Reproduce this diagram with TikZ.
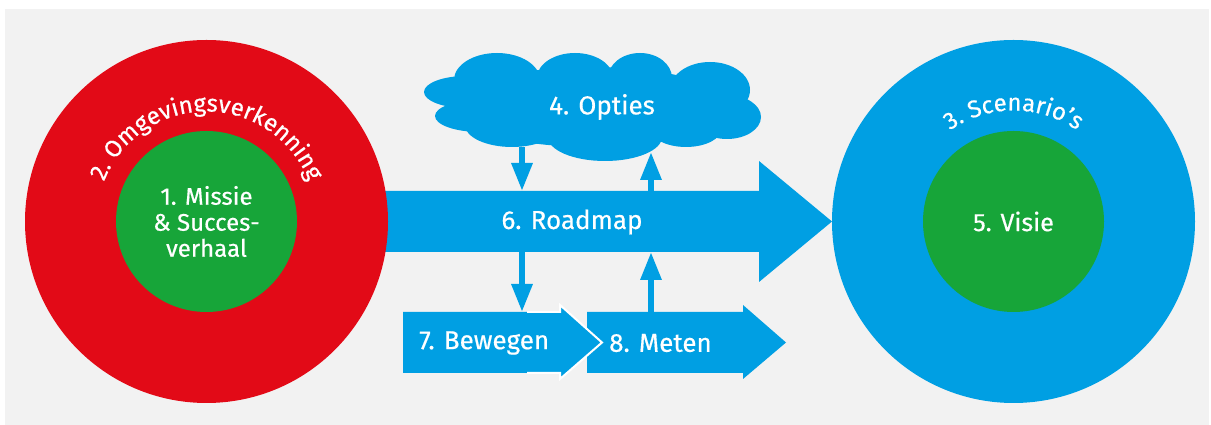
\documentclass[tikz,border=0pt]{standalone}
\usepackage{fontspec}
\setmainfont{Fira Sans}[FakeBold=0.5]
\usepackage{xcolor}
\usepackage{tikz}
\usetikzlibrary{arrows.meta, decorations.text}

\definecolor{rvrood}{HTML}{E20A17}
\definecolor{rvblauw}{HTML}{009FE3}
\definecolor{rvgroen}{HTML}{17A539}
\definecolor{rvgrijs}{HTML}{F2F2F2}

\tikzset{
  ring/.style={circle, inner sep=0pt, minimum size=363pt},
  kern/.style={circle, fill=rvgroen, inner sep=0pt, minimum size=181pt, text=white, align=center, font=\fontsize{25}{26}\selectfont},
  lbl/.style={inner sep=0pt, text=white, font=\fontsize{26}{26}\selectfont},
  pijl/.style={draw=rvblauw, line width=6pt, -{Triangle[length=28pt,width=20pt]}},
  boogtekst/.style={decorate, decoration={text along path, text align=center, text color=white, text={|\fontsize{24}{24}\selectfont|#1}}}
}

\begin{document}
\begin{tikzpicture}[x=1pt,y=1pt]
\useasboundingbox (0,0) rectangle (1211,425);
\fill[rvgrijs] (5,0) rectangle (1209,416);

% roadmap shaft runs in behind the red ring
\fill[rvblauw] (380,173) -- (759,173) -- (759,143) -- (832,203.5) -- (759,264) -- (759,234) -- (380,234) -- cycle;

\node[ring, fill=rvrood] (omgeving) at (206.5,203.5) {};
\node[kern, font=\fontsize{24}{26}\selectfont] (missie) at (omgeving) {1. Missie\\\& Succes-\\verhaal};
\path[boogtekst={2. Omgevingsverkenning}] (omgeving.center) ++(180:110) arc[start angle=180, end angle=0, radius=110];

\node[ring, fill=rvblauw] (scenarios) at (1013.5,203.5) {};
\node[kern] (visie) at (scenarios) {5. Visie};
\path[boogtekst={3. Scenario’s}] (scenarios.center) ++(180:111) arc[start angle=180, end angle=0, radius=111];

% the cloud, built from overlapping puffs
\begin{scope}[rvblauw]
  \fill (592,318) ellipse[x radius=140, y radius=40];
  \fill (497,345) ellipse[x radius=43, y radius=27];
  \fill (575,347) ellipse[x radius=38, y radius=25];
  \fill (640,347) ellipse[x radius=32, y radius=25];
  \fill (710,335) ellipse[x radius=40, y radius=28];
  \fill (727,308) ellipse[x radius=34, y radius=22];
  \fill (466,333) ellipse[x radius=42, y radius=16];
  \fill (480,309) ellipse[x radius=45, y radius=16];
  \fill (512,300) ellipse[x radius=47, y radius=22];
  \fill (605,288) ellipse[x radius=57, y radius=24];
  \fill (686,297) ellipse[x radius=36, y radius=19];
\end{scope}
\node[lbl] (opties) at (602,318) {4. Opties};
\node[lbl] (roadmap) at (572,203) {6. Roadmap};

% end points on the roadmap and the two small arrows below
\coordinate (optiesuit) at (522,278);
\coordinate (optiesin) at (651,273);
\coordinate (rmboven1) at (522,234);
\coordinate (rmboven2) at (651,234);
\coordinate (rmonder1) at (522,173);
\coordinate (rmonder2) at (651,173);
\coordinate (bewegenin) at (522,113);
\coordinate (metenuit) at (651,113);

\draw[pijl] (optiesuit) -- (rmboven1);
\draw[pijl] (rmboven2) -- (optiesin);
\draw[pijl] (rmonder1) -- (bewegenin);
\draw[pijl] (metenuit) -- (rmonder2);

\fill[rvblauw] (587,113) -- (743,113) -- (743,120) -- (786,82.5) -- (743,46) -- (743,52) -- (587,52) -- cycle;
\fill[rvblauw] (403,113) -- (560,113) -- (560,120) -- (602,82.5) -- (560,46) -- (560,52) -- (403,52) -- cycle;
\draw[white, line width=2pt] (527,113) -- (560,113) -- (560,120) -- (602,82.5) -- (560,46) -- (560,52) -- (527,52);

\node[lbl, anchor=west] (bewegen) at (419,82) {7. Bewegen};
\node[lbl, anchor=west] (meten) at (609,82) {8. Meten};
\end{tikzpicture}
\end{document}
